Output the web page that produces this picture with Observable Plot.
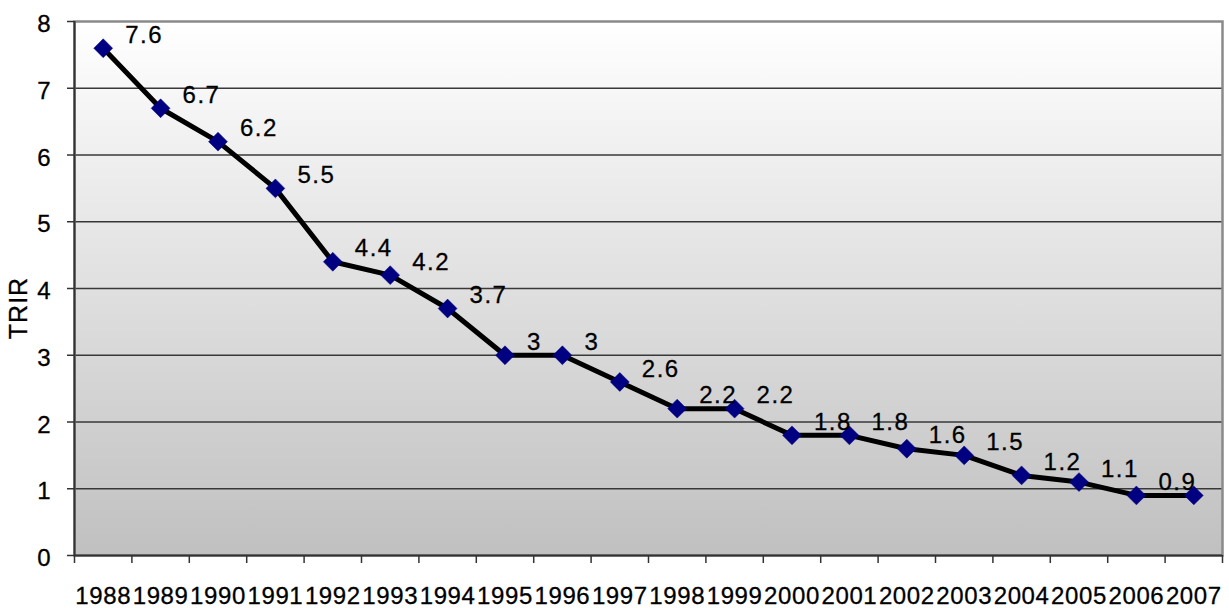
<!DOCTYPE html>
<html><head><meta charset="utf-8">
<script src="https://cdn.jsdelivr.net/npm/d3@7"></script>
<script src="https://cdn.jsdelivr.net/npm/@observablehq/plot@0.6"></script>
<style>
html,body{margin:0;padding:0;background:#fff;}
#chart svg text{letter-spacing:1px;stroke:#000;stroke-width:0.3px;}
#chart svg .xlab text{letter-spacing:0.6px;}
#chart svg .vlab text{letter-spacing:1.5px;}
</style></head><body><div id="chart"></div>
<script>
const years = [1988,1989,1990,1991,1992,1993,1994,1995,1996,1997,1998,1999,2000,2001,2002,2003,2004,2005,2006,2007];
const trir = [7.6,6.7,6.2,5.5,4.4,4.2,3.7,3.0,3.0,2.6,2.2,2.2,1.8,1.8,1.6,1.5,1.2,1.1,0.9,0.9];
const yTicks = [0,1,2,3,4,5,6,7,8];
const gridValues = [1,2,3,4,5,6,7];
const yTitle = "TRIR";

const data = years.map((year, i) => ({year, value: trir[i]}));
const bounds = [...years.map(y => y - 0.5), years[years.length - 1] + 0.5];
const labelled = data.slice(0, -1);

const gradientDefs = () => {
  const defs = d3.create("svg:defs");
  const lg = defs.append("linearGradient").attr("id", "bg")
    .attr("x1", 0).attr("y1", 0).attr("x2", 0).attr("y2", 1);
  lg.append("stop").attr("offset", "0%").attr("stop-color", "#ffffff");
  lg.append("stop").attr("offset", "100%").attr("stop-color", "#c0c0c0");
  return defs.node();
};

// Rotated y-axis title, placed relative to the plot frame
const yTitleMark = (index, scales, values, dims) => {
  const cx = dims.marginLeft - 56;
  const cy = (dims.marginTop + dims.height - dims.marginBottom) / 2 + 20;
  const t = d3.create("svg:text")
    .attr("transform", `translate(${cx},${cy}) rotate(-90)`)
    .attr("text-anchor", "middle")
    .attr("dy", "0.35em")
    .attr("font-size", 25)
    .attr("fill", "#000")
    .text(yTitle);
  return t.node();
};

const chart = Plot.plot({
  width: 1229,
  height: 608,
  marginLeft: 74,
  marginRight: 7,
  marginTop: 21,
  marginBottom: 53,
  x: {type: "linear", domain: [bounds[0], bounds[bounds.length - 1]]},
  y: {domain: [0, 8]},
  style: {fontFamily: "'Liberation Sans', Arial, sans-serif", fontSize: "24px", color: "#000", background: "transparent"},
  marks: [
    gradientDefs,
    Plot.frame({fill: "url(#bg)", stroke: null}),
    Plot.ruleY(gridValues, {stroke: "#383838", strokeWidth: 1.3}),
    Plot.frame({stroke: "#8a8a8a", strokeWidth: 2.5}),
    Plot.ruleY([0], {stroke: "#333", strokeWidth: 2}),
    Plot.ruleX([bounds[0]], {stroke: "#333", strokeWidth: 2}),
    Plot.axisX({ticks: bounds, tickSize: 8, tickFormat: () => "", label: null, stroke: "#333", strokeWidth: 1.5}),
    Plot.axisX({ticks: years, tickSize: 0, tickPadding: 31, tickFormat: d => String(d), label: null, fontSize: 24, className: "xlab"}),
    Plot.axisY({ticks: yTicks, tickSize: 7, tickFormat: () => "", label: null, stroke: "#333", strokeWidth: 1.5}),
    Plot.axisY({ticks: yTicks, tickSize: 0, tickPadding: 23, dy: 3, label: null, fontSize: 24}),
    yTitleMark,
    Plot.line(data, {x: "year", y: "value", stroke: "#000", strokeWidth: 5}),
    Plot.dot(data, {x: "year", y: "value", symbol: "diamond2", r: 8.5, fill: "#000080", stroke: "#000080", strokeWidth: 0.5}),
    Plot.text(labelled, {x: "year", y: "value", text: d => String(d.value), textAnchor: "start", dx: 22, dy: -13, fontSize: 24, fill: "#000", className: "vlab"})
  ]
});
document.getElementById("chart").appendChild(chart);
</script></body></html>
